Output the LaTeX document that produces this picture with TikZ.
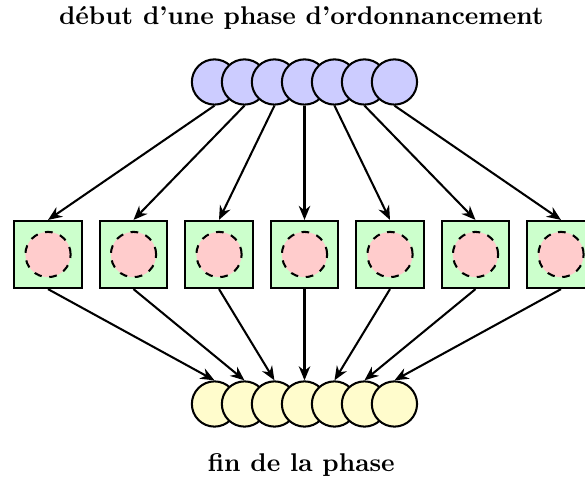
\documentclass[tikz,border=0pt]{standalone}
\usepackage{tikz}
\usetikzlibrary{arrows.meta, positioning}

\begin{document}
\begin{tikzpicture}[
  >={Stealth[length=5.5pt, width=4.5pt]},
  tache/.style={circle, draw=black, thick, fill=blue!20, minimum size=0.62cm, inner sep=0pt},
  fini/.style={circle, draw=black, thick, fill=yellow!20, minimum size=0.62cm, inner sep=0pt},
  proc/.style={rectangle, draw=black, thick, fill=green!20, minimum size=0.92cm, inner sep=0pt},
  encours/.style={circle, draw=black, thick, dashed, fill=red!20, minimum size=0.62cm, inner sep=0pt},
  fleche/.style={->, thick},
  titre/.style={font=\bfseries}
]
  \useasboundingbox (0,0) rectangle (8.019,6.566);

  % Titles
  \node[titre] (haut) at (4.13, 6.326) {début d'une phase d'ordonnancement};
  \node[titre] (bas) at (4.13, 0.19) {fin de la phase};

  % Tasks waiting at the start of the phase
  \node[tache] (t1) at (2.940, 5.442) {};
  \node[tache] (t2) at (3.351, 5.442) {};
  \node[tache] (t3) at (3.762, 5.442) {};
  \node[tache] (t4) at (4.174, 5.442) {};
  \node[tache] (t5) at (4.585, 5.442) {};
  \node[tache] (t6) at (4.996, 5.442) {};
  \node[tache] (t7) at (5.407, 5.442) {};

  % Processors
  \node[proc] (p1) at (0.658, 3.077) {};
  \node[proc] (p2) at (1.830, 3.077) {};
  \node[proc] (p3) at (3.002, 3.077) {};
  \node[proc] (p4) at (4.174, 3.077) {};
  \node[proc] (p5) at (5.346, 3.077) {};
  \node[proc] (p6) at (6.518, 3.077) {};
  \node[proc] (p7) at (7.690, 3.077) {};

  % Task being run on each processor
  \node[encours] (c1) at (p1) {};
  \node[encours] (c2) at (p2) {};
  \node[encours] (c3) at (p3) {};
  \node[encours] (c4) at (p4) {};
  \node[encours] (c5) at (p5) {};
  \node[encours] (c6) at (p6) {};
  \node[encours] (c7) at (p7) {};

  % Finished tasks
  \node[fini] (f1) at (2.940, 1.028) {};
  \node[fini] (f2) at (3.351, 1.028) {};
  \node[fini] (f3) at (3.762, 1.028) {};
  \node[fini] (f4) at (4.174, 1.028) {};
  \node[fini] (f5) at (4.585, 1.028) {};
  \node[fini] (f6) at (4.996, 1.028) {};
  \node[fini] (f7) at (5.407, 1.028) {};

  % Dispatch to processors
  \draw[fleche] (t1.south) -- (p1.north);
  \draw[fleche] (t2.south) -- (p2.north);
  \draw[fleche] (t3.south) -- (p3.north);
  \draw[fleche] (t4.south) -- (p4.north);
  \draw[fleche] (t5.south) -- (p5.north);
  \draw[fleche] (t6.south) -- (p6.north);
  \draw[fleche] (t7.south) -- (p7.north);

  % Completion
  \draw[fleche] (p1.south) -- (f1.north);
  \draw[fleche] (p2.south) -- (f2.north);
  \draw[fleche] (p3.south) -- (f3.north);
  \draw[fleche] (p4.south) -- (f4.north);
  \draw[fleche] (p5.south) -- (f5.north);
  \draw[fleche] (p6.south) -- (f6.north);
  \draw[fleche] (p7.south) -- (f7.north);
\end{tikzpicture}
\end{document}
